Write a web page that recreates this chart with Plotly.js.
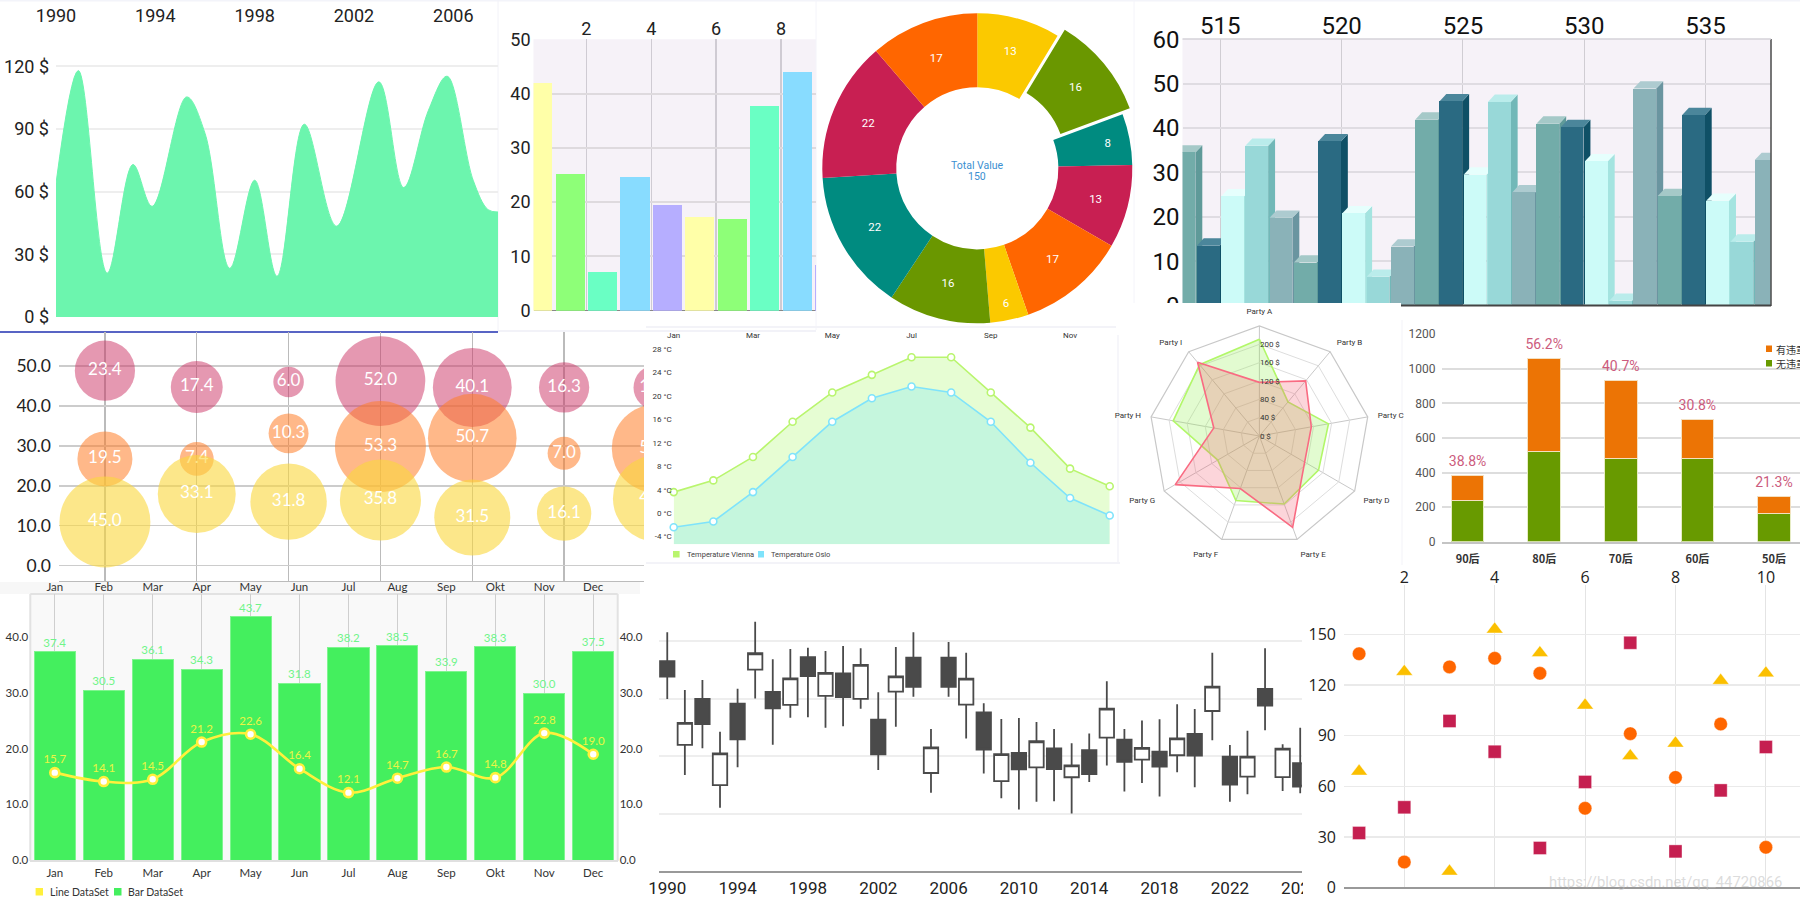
<!DOCTYPE html>
<html><head><meta charset="utf-8">
<script src="https://cdn.plot.ly/plotly-3.0.1.min.js"></script>
<style>html,body{margin:0;padding:0;background:#fff}#c{width:1800px;height:900px}</style>
</head><body><div id="c"></div>
<script>
// ---------- data ----------
const areaYears = [1990,1990.9,1992.06,1993.1,1993.87,1995.26,1996,1997,1998,1998.9,2000,2001.3,2003,2004,2005,2005.75,2006.8,2007.4,2007.8];
const areaValues = [64,118,21,73,53,105.4,88,23.3,65.5,19.5,92.3,43.5,112.6,62,99,115.3,65.5,51.4,50.3];
const areaTicks = [1990,1994,1998,2002,2006];
const areaYTicks = [0,30,60,90,120];
const areaYLabels = ['0 $','30 $','60 $','90 $','120 $'];

const pastelX = [0.5,1.5,2.5,3.5,4.5,5.5,6.5,7.5,8.5,9.5];
const pastelValues = [42,25.2,7.1,24.6,19.5,17.2,16.8,37.7,43.9,8.4];
const pastelColors = ['#ffffa8','#8eff78','#6affc4','#88dcff','#b6aeff'];

const donutValues = [13,16,8,13,17,6,16,22,22,17];
const donutColors = ['#fbc900','#6a9700','#008b80','#c81f52','#ff6600','#fbc900','#6a9700','#008b80','#c81f52','#ff6600'];
const donutPull = [0,0.06,0,0,0,0,0,0,0,0];

const bar3dX = [513.5,514.5,515.5,516.5,517.5,518.5,519.5,520.5,521.5,522.5,523.5,524.5,525.5,526.5,527.5,528.5,529.5,530.5,531.5,532.5,533.5,534.5,535.5,536.5,537.5];
const bar3dValues = [34.5,13.5,24.6,36,19.8,9.7,37,20.8,6.5,13.3,41.9,46,29.5,45.9,25.5,41,40.2,32.5,1.1,48.9,24.7,42.9,23.6,14.4,32.8];
const bar3dFront = ['#72aca9','#2a6a82','#ccfbf8','#98d8d8','#8ab2b8'];
const bar3dTop = ['#a5c9c8','#4b869b','#e6fffd','#baeceb','#adcbd0'];
const bar3dSide = ['#5f9a99','#0f5066','#a4e4e0','#72b8b8','#6a95a0'];

const bubbleX = [1,2,3,4,5,6,7];
const pinkY = [48.8,44.7,46,46.2,44.6,44.6,44.6];
const pinkV = [23.4,17.4,6.0,52.0,40.1,16.3,13.0];
const orangeY = [26.7,26.7,33.1,29.8,31.9,28.1,29.3];
const orangeV = [19.5,7.4,10.3,53.3,50.7,7.0,50.3];
const yellowY = [10.9,17.9,16,16.4,12,13,16.8];
const yellowV = [45.0,33.1,31.8,35.8,31.5,16.1,40.3];

const months = ['Jan','Feb','Mar','Apr','May','Jun','Jul','Aug','Sep','Oct','Nov','Dec'];
const viennaT = [3.6,5.6,9.6,15.6,20.6,23.6,26.6,26.6,20.6,14.6,7.6,4.6];
const osloT = [-2.4,-1.4,3.6,9.6,15.6,19.6,21.6,20.6,15.6,8.6,2.6,-0.4];
const tempBaseline = [-5.3,-5.3,-5.3,-5.3,-5.3,-5.3,-5.3,-5.3,-5.3,-5.3,-5.3,-5.3];
const tempTicks = [-4,0,4,8,12,16,20,24,28];
const tempLabels = ['-4 °C','0 °C','4 °C','8 °C','12 °C','16 °C','20 °C','24 °C','28 °C'];

const parties = ['Party A','Party B','Party C','Party D','Party E','Party F','Party G','Party H','Party I'];
const radarGreen = [211,97,153,149,158,150,105,191,203];
const radarRed = [117,157,115,114,212,122,212,101,210];
const radarTicks = [0,40,80,120,160,200];
const radarLabels = ['0 $','40 $','80 $','120 $','160 $','200 $'];

const ageGroups = ['90后','80后','70后','60后','50后'];
const noViolation = [241,523,479,481,166];
const hasViolation = [141,539,455,227,93];
const agePercent = ['38.8%','56.2%','40.7%','30.8%','21.3%'];

const monthsOkt = ['Jan','Feb','Mar','Apr','May','Jun','Jul','Aug','Sep','Okt','Nov','Dec'];
const comboBars = [37.4,30.5,36.1,34.3,43.7,31.8,38.2,38.5,33.9,38.3,30.0,37.5];
const comboLine = [15.7,14.1,14.5,21.2,22.6,16.4,12.1,14.7,16.7,14.8,22.8,19.0];

const candleX = [1990,1991,1992,1993,1994,1995,1996,1997,1998,1999,2000,2001,2002,2003,2004,2005,2006,2007,2008,2009,2010,2011,2012,2013,2014,2015,2016,2017,2018,2019,2020,2021,2022,2023,2024,2025,2026];
const candleOpen = [109.6,65.9,89.9,44.9,87.5,105.2,93.6,86.8,111.7,91.5,103.3,89.9,79.1,93.7,111.5,51.2,111.5,86.9,82.9,47,61.7,54.2,64.1,49,63.2,69.7,68.6,58.2,62.4,60.5,71.6,83.6,59.8,49.3,95.1,49.1,56.3];
const candleClose = [101.6,77.4,76.8,61.5,68.8,113.8,85,100.7,101.9,103.5,90.9,107.7,61,101.7,96.2,64.6,96.2,100.5,63.4,61.1,53.1,67.8,53.3,55.2,50.7,84.8,57.1,64.3,54.5,69.3,60.3,96.3,45.1,59.8,86.4,63.9,44.1];
const candleHigh = [124.7,94.6,99.8,72.8,95.3,130.3,110.6,116,116.6,115,117.6,116.4,93.4,117.1,124.7,74.2,119.7,114.1,87.6,79.4,80,77.9,74.2,66.7,71.8,99.1,74.2,78.7,79.3,87.1,84.7,114.1,65.9,73.3,116.4,66.2,74.9];
const candleLow = [89.9,50.2,64.1,33.1,54.2,90.2,66,80.1,80.3,74.9,75.6,84.8,52.8,75.4,91.1,40.9,91.1,69.2,50.9,38,32.2,36.2,36.4,30,46.5,55.1,41.5,46,38.9,51.6,43.7,68.3,36.2,40.1,73.5,41.8,40.6];
const candleTicks = [1990,1994,1998,2002,2006,2010,2014,2018,2022,2026];

const scatterX = [1,2,3,4,5,6,7,8,9,10];
const circleY = [138.5,15.2,130.7,135.8,126.9,47,91.2,65.3,96.9,23.9];
const triangleY = [68.9,127.9,9.7,153,139,108,78,85.5,122.6,127];
const squareY = [32.4,47.6,98.7,80.5,23.5,62.6,145,21.5,57.6,83.3];

// ---------- helpers ----------
const W = 1800, H = 900;
const dx = (a,b)=>[a/W,b/W];
const dy = (top,bot)=>[1-bot/H,1-top/H];
const narrow = 'Roboto, sans-serif';
const shapes = [], annotations = [], traces = [];
function rect(x0,y0,x1,y1,color,layer){shapes.push({type:'rect',xref:'paper',yref:'paper',x0:x0/W,x1:x1/W,y0:1-y0/H,y1:1-y1/H,fillcolor:color,line:{width:0},layer:layer||'below'});}
function line(x0,y0,x1,y1,color,width,layer){shapes.push({type:'line',xref:'paper',yref:'paper',x0:x0/W,x1:x1/W,y0:1-y0/H,y1:1-y1/H,line:{color:color,width:width},layer:layer||'below'});}
function label(x,y,text,size,color,family,anchor){annotations.push({xref:'paper',yref:'paper',x:x/W,y:1-y/H,text:text,showarrow:false,xanchor:anchor||'left',yanchor:'middle',font:{size:size,color:color,family:family},borderpad:0,captureevents:false});}
const hidden = {showgrid:false,zeroline:false,showticklabels:false,ticks:'',showline:false};

// ---------- panel backgrounds ----------
rect(0,0,1800,1.5,'#f3f4fa');
rect(533.5,39.2,816,310.7,'#f6f2f8');
rect(1182.5,39,1771,305.6,'#f6f2f8');
rect(0,582,646,900,'#ffffff');
rect(0,582,640,594,'#f7f7f7');
rect(30.3,594,617.7,861,'#f9f9f9');
line(30.3,594,617.7,594,'#e2e2e2',2);
line(30.3,594,30.3,861,'#e2e2e2',2);
line(617.7,594,617.7,861,'#e2e2e2',2);
line(498,0,498,332,'#f2f2f8',1);
line(816,0,816,330,'#f4f4fa',1);
line(1134,0,1134,303,'#f4f4fa',1);
line(646,327,1116,327,'#f3f3f8',2);
line(646,563,1120,563,'#f3f3f8',2);
line(1118,335,1118,563,'#f3f3f8',1.5);
line(1402,320,1402,565,'#f3f3f8',1);
line(0,332,498,332,'#2030b0',1.6);
line(498,331,816,331,'#f2f2f8',2);

// ---------- 1. area ----------
traces.push({type:'scatter',xaxis:'x',yaxis:'y',x:areaYears,y:areaValues,mode:'lines',
  line:{shape:'spline',smoothing:1,color:'#6cf5ae',width:1},fill:'tozeroy',fillcolor:'#6cf5ae',hoverinfo:'skip'});

// ---------- 2. pastel bars ----------
traces.push({type:'bar',xaxis:'x2',yaxis:'y2',x:pastelX,y:pastelValues,width:0.9,
  marker:{color:pastelX.map((_,i)=>pastelColors[i%5])},hoverinfo:'skip'});

// ---------- 3. donut ----------
traces.push({type:'pie',values:donutValues,sort:false,direction:'clockwise',rotation:0,hole:0.523,
  pull:donutPull,marker:{colors:donutColors,line:{width:0}},textinfo:'value',textposition:'inside',
  insidetextorientation:'horizontal',textfont:{color:'#fff',size:11.5,family:'Roboto'},
  domain:{x:dx(813,1141.6),y:dy(4,332.6)},hoverinfo:'skip'});
label(977.3,165.7,'Total Value',10.5,'#3b8fd1','Roboto','center');
label(977.3,176.7,'150',10.5,'#3b8fd1','Roboto','center');

// ---------- 4. pseudo 3D bars ----------
const depthX = 0.286, depthY = 1.65, faceW = 0.94;
bar3dX.forEach((c,i)=>{
  const v = bar3dValues[i], l = c-faceW/2, r = c+faceW/2;
  traces.push({type:'scatter',xaxis:'x3',yaxis:'y3',mode:'lines',line:{width:0},fill:'toself',fillcolor:bar3dSide[i%5],hoverinfo:'skip',
    x:[r,r+depthX,r+depthX,r,r],y:[0,depthY,v+depthY,v,0]});
  traces.push({type:'scatter',xaxis:'x3',yaxis:'y3',mode:'lines',line:{width:0},fill:'toself',fillcolor:bar3dTop[i%5],hoverinfo:'skip',
    x:[l,l+depthX,r+depthX,r,l],y:[v,v+depthY,v+depthY,v,v]});
});
traces.push({type:'bar',xaxis:'x4',yaxis:'y4',x:bar3dX,y:bar3dValues,width:faceW,
  marker:{color:bar3dX.map((_,i)=>bar3dFront[i%5])},hoverinfo:'skip'});
line(1771,39,1771,306,'#555',1.6,'above');
line(1182.5,39,1771,39,'#d5d2d8',1.5,'above');
line(1401,305.6,1771,305.6,'#444',2,'above');
rect(1135,303,1401,307,'#ffffff','above');
rect(1135,303,1182,322,'#ffffff','above');

// ---------- 5. bubbles ----------
function bubble(ys,vals,color,k){
  traces.push({type:'scatter',xaxis:'x5',yaxis:'y5',x:bubbleX,y:ys,mode:'markers+text',text:vals.map(v=>v.toFixed(1)),
    textposition:'middle center',textfont:{color:'#fff',size:17,family:'Lato'},cliponaxis:true,
    marker:{size:vals.map(v=>k*Math.sqrt(v)),color:color,opacity:1,line:{width:0},sizemode:'diameter'},hoverinfo:'skip'});
}
bubble(pinkY,pinkV,'rgba(203,50,100,0.5)',12.45);
bubble(orangeY,orangeV,'rgba(255,125,40,0.55)',12.45);
bubble(yellowY,yellowV,'rgba(250,215,60,0.6)',13.55);

// ---------- 6. temperature ----------
const tGreen='#b9f56e', tBlue='#7fe3fb';
traces.push({type:'scatter',xaxis:'x6',yaxis:'y6',x:months,y:tempBaseline,mode:'lines',line:{width:0},hoverinfo:'skip'});
traces.push({type:'scatter',xaxis:'x6',yaxis:'y6',x:months,y:viennaT,mode:'lines',line:{width:0},fill:'tonexty',fillcolor:'#e6fdd3',hoverinfo:'skip'});
traces.push({type:'scatter',xaxis:'x6',yaxis:'y6',x:months,y:tempBaseline,mode:'lines',line:{width:0},hoverinfo:'skip'});
traces.push({type:'scatter',xaxis:'x6',yaxis:'y6',x:months,y:osloT,mode:'lines',line:{width:0},fill:'tonexty',fillcolor:'#c5f6dd',hoverinfo:'skip'});
traces.push({type:'scatter',xaxis:'x6',yaxis:'y6',x:months,y:viennaT,mode:'lines+markers',cliponaxis:false,line:{color:tGreen,width:1.6},
  marker:{size:7,color:'#fff',line:{color:tGreen,width:1.6}},hoverinfo:'skip'});
traces.push({type:'scatter',xaxis:'x6',yaxis:'y6',x:months,y:osloT,mode:'lines+markers',cliponaxis:false,line:{color:tBlue,width:1.6},
  marker:{size:7,color:'#fff',line:{color:tBlue,width:1.6}},hoverinfo:'skip'});
rect(673,551,679.6,557.5,tGreen);
rect(758,551,764,557.5,tBlue);
label(686,554.3,'Temperature Vienna',7.5,'#444','Roboto');
label(770,554.3,'Temperature Oslo',7.5,'#444','Roboto');

// ---------- 7. radar ----------
traces.push({type:'scatterpolar',subplot:'polar',theta:parties.concat(parties[0]),r:radarGreen.concat(radarGreen[0]),mode:'lines',
  line:{color:'#b2f769',width:1.6},fill:'toself',fillcolor:'rgba(139,239,67,0.25)',hoverinfo:'skip'});
traces.push({type:'scatterpolar',subplot:'polar',theta:parties.concat(parties[0]),r:radarRed.concat(radarRed[0]),mode:'lines',
  line:{color:'#f96b82',width:1.6},fill:'toself',fillcolor:'rgba(243,87,107,0.25)',hoverinfo:'skip'});

// ---------- 8. stacked ----------
traces.push({type:'bar',xaxis:'x7',yaxis:'y7',x:ageGroups,y:noViolation,width:0.424,marker:{color:'#689a00',line:{color:'#e6ecc4',width:1}},hoverinfo:'skip'});
traces.push({type:'bar',xaxis:'x7',yaxis:'y7',x:ageGroups,y:hasViolation,width:0.424,marker:{color:'#ec7405',line:{color:'#f4e0c0',width:1}},hoverinfo:'skip'});
traces.push({type:'scatter',xaxis:'x7',yaxis:'y7',x:ageGroups,y:noViolation.map((v,i)=>v+hasViolation[i]),mode:'markers+text',text:agePercent,
  marker:{size:8,color:'rgba(0,0,0,0)',line:{width:0}},
  textposition:'top center',textfont:{color:'#cc5b7d',size:14,family:narrow},cliponaxis:false,hoverinfo:'skip'});
rect(1766,345.5,1772,352,'#ec7405');
rect(1766,360,1772,366.5,'#689a00');
label(1775,349,'有违章',10,'#333','Noto Sans CJK SC');
label(1775,363.5,'无违章',10,'#333','Noto Sans CJK SC');

// ---------- 9. combo ----------
traces.push({type:'bar',xaxis:'x8',yaxis:'y8',x:monthsOkt,y:comboBars,width:0.84,
  marker:{color:'#44ef5e',line:{color:'#7ff58f',width:1}},text:comboBars.map(v=>v.toFixed(1)),textposition:'outside',
  textfont:{color:'#6ff589',size:11.5,family:'Lato'},cliponaxis:false,hoverinfo:'skip'});
traces.push({type:'scatter',xaxis:'x9',yaxis:'y9',x:monthsOkt,y:comboLine,mode:'lines+markers+text',
  line:{shape:'spline',smoothing:1,color:'#fff03c',width:2.6},
  marker:{size:9,color:'#fff',line:{color:'#fff03c',width:2.6}},
  text:comboLine.map(v=>v.toFixed(1)),textposition:'top center',textfont:{color:'#eaf545',size:11.5,family:'Lato'},hoverinfo:'skip'});
rect(35.6,888,43,895.5,'#fff03c');
rect(114,888,121.5,895.5,'#44ef5e');
label(48.5,891.7,'Line DataSet',10.5,'#333','Lato');
label(126.5,891.7,'Bar DataSet',10.5,'#333','Lato');

// ---------- 10. candles ----------
traces.push({type:'candlestick',xaxis:'x10',yaxis:'y10',x:candleX,open:candleOpen,close:candleClose,high:candleHigh,low:candleLow,
  increasing:{line:{color:'#4a4a4a',width:1.8},fillcolor:'#ffffff'},
  decreasing:{line:{color:'#4a4a4a',width:1.8},fillcolor:'#4a4a4a'},whiskerwidth:0,hoverinfo:'skip'});
rect(1303,874,1322,898,'#ffffff','above');

// ---------- 11. scatter ----------
function pts(ys,sym,color,size){
  traces.push({type:'scatter',xaxis:'x11',yaxis:'y11',x:scatterX,y:ys,mode:'markers',cliponaxis:false,
    marker:{symbol:sym,size:size,color:color,line:{width:0.6,color:'rgba(255,255,255,0.6)'}},hoverinfo:'skip'});
}
pts(circleY,'circle','#ff6600',13.5);
pts(triangleY,'triangle-up','#fbbf00',14.5);
pts(squareY,'square','#c51f50',13);
label(1548,881.7,'https://blog.csdn.net/qq_44720866',14.8,'rgba(190,190,190,0.55)','Roboto');

// ---------- layout ----------
const layout = {
  width:W,height:H,margin:{l:0,r:0,t:0,b:0,pad:0},paper_bgcolor:'#ffffff',plot_bgcolor:'rgba(0,0,0,0)',
  showlegend:false,barmode:'stack',bargap:0,boxgap:0.18,boxgroupgap:0,shapes:shapes,annotations:annotations,hovermode:false,
  font:{family:'Roboto',color:'#222'},
  // 1
  xaxis:{domain:dx(56,498),anchor:'y',side:'top',range:[1990,2007.8],tickmode:'array',tickvals:areaTicks,showgrid:false,zeroline:false,
    tickfont:{family:narrow,size:18,color:'#222'},ticklabelstandoff:1},
  yaxis:{domain:dy(28,317),anchor:'x',range:[0,138.4],tickmode:'array',tickvals:areaYTicks,ticktext:areaYLabels,gridcolor:'#eeeeee',gridwidth:2,zeroline:false,
    tickfont:{family:narrow,size:18,color:'#222'},ticklabelstandoff:6},
  // 2
  xaxis2:{domain:dx(533.5,816),anchor:'y2',side:'top',range:[0.37,9.08],tickvals:[2,4,6,8],gridcolor:'#cfcbd3',gridwidth:1.2,zeroline:false,
    tickfont:{family:narrow,size:18,color:'#222'}},
  yaxis2:{domain:dy(39.2,310.7),anchor:'x2',range:[0,50],tickvals:[0,10,20,30,40,50],gridcolor:'#dedade',gridwidth:2,zeroline:true,zerolinecolor:'#888',zerolinewidth:1.5,
    tickfont:{family:narrow,size:18,color:'#222'},ticklabelstandoff:2},
  // 4
  xaxis3:{domain:dx(1182.5,1771),anchor:'y3',side:'top',range:[513.44,537.7],tickvals:[515,520,525,530,535],gridcolor:'#d0cdd3',gridwidth:1,zeroline:false,
    tickfont:{family:narrow,size:24,color:'#111'}},
  yaxis3:{domain:dy(39.3,305.6),anchor:'x3',range:[0,60],tickvals:[0,10,20,30,40,50,60],gridcolor:'#dfdce2',gridwidth:2,zeroline:false,
    tickfont:{family:narrow,size:24,color:'#111'},ticklabelstandoff:2},
  xaxis4:Object.assign({overlaying:'x3',anchor:'y4',range:[513.44,537.7]},hidden),
  yaxis4:Object.assign({overlaying:'y3',anchor:'x4',range:[0,60]},hidden),
  // 5
  xaxis5:{domain:dx(59,644),anchor:'y5',range:[0.5,6.87],tickvals:bubbleX,showticklabels:false,gridcolor:'#bbbbbb',gridwidth:1.4,zeroline:false,showline:true,linecolor:'#bbbbbb',linewidth:1.4},
  yaxis5:{domain:dy(332,581),anchor:'x5',range:[-3.9,58.5],tickvals:[0,10,20,30,40,50],tickformat:'.1f',gridcolor:'#cccccc',gridwidth:1.8,zeroline:false,
    tickfont:{family:'Lato',size:17.5,color:'#222'},ticklabelstandoff:7},
  // 6
  xaxis6:{domain:dx(673.7,1109.7),anchor:'y6',side:'top',type:'category',categoryorder:'array',categoryarray:months,range:[0,11],
    tickmode:'array',tickvals:['Jan','Mar','May','Jul','Sep','Nov'],showgrid:false,zeroline:false,tickfont:{size:8,color:'#333'},ticklabelstandoff:1},
  yaxis6:{domain:dy(342,544.3),anchor:'x6',range:[-5.3,29.2],tickmode:'array',tickvals:tempTicks,ticktext:tempLabels,showgrid:false,zeroline:false,
    tickfont:{size:8,color:'#333'},ticklabelstandoff:1},
  // 7 radar
  polar:{domain:{x:dx(1149.4,1369.4),y:dy(326,546)},bgcolor:'rgba(0,0,0,0)',gridshape:'linear',
    angularaxis:{direction:'clockwise',rotation:90,type:'category',categoryorder:'array',categoryarray:parties,gridcolor:'#c8c8c8',linecolor:'#c8c8c8',linewidth:1.2,gridwidth:1,
      tickfont:{size:8,color:'#333'},ticks:'outside',ticklen:8,tickcolor:'rgba(0,0,0,0)'},
    radialaxis:{range:[0,240],angle:90,tickangle:90,tickmode:'array',tickvals:radarTicks,ticktext:radarLabels,gridcolor:'#dddddd',gridwidth:1,showline:false,ticks:'',side:'clockwise',
      tickfont:{size:8,color:'#333'}}},
  // 8
  xaxis7:{domain:dx(1441.5,1800),anchor:'y7',type:'category',categoryorder:'array',categoryarray:ageGroups,range:[-0.341,4.34],showgrid:false,zeroline:false,showline:true,linecolor:'#c4c4c4',linewidth:2,
    tickfont:{family:'Noto Sans CJK SC',size:11,color:'#333',weight:700},ticklabelstandoff:6},
  yaxis7:{domain:dy(333.4,541.7),anchor:'x7',range:[0,1205],tickvals:[0,200,400,600,800,1000,1200],gridcolor:'#dddddd',gridwidth:2,zeroline:false,
    tickfont:{family:narrow,size:12,color:'#555'},ticklabelstandoff:5},
  // 9
  xaxis8:{domain:dx(30.3,617.7),anchor:'y8',type:'category',categoryorder:'array',categoryarray:monthsOkt,range:[-0.5,11.5],gridcolor:'#cfcfcf',gridwidth:1.2,zeroline:false,showline:true,linecolor:'#e0e0e0',linewidth:1.5,
    tickfont:{family:'Lato',size:11.5,color:'#333'},ticklabelstandoff:2},
  yaxis8:{domain:dy(594,860),anchor:'x8',range:[0,47.8],tickvals:[0,10,20,30,40],tickformat:'.1f',showgrid:false,zeroline:false,
    tickfont:{family:'Lato',size:11.5,color:'#333'},ticklabelstandoff:1},
  xaxis9:{overlaying:'x8',side:'top',anchor:'y9',type:'category',categoryorder:'array',categoryarray:monthsOkt,range:[-0.5,11.5],showgrid:false,zeroline:false,
    tickfont:{family:'Lato',size:11.5,color:'#333'}},
  yaxis9:{overlaying:'y8',side:'right',anchor:'x9',range:[0,47.8],tickvals:[0,10,20,30,40],tickformat:'.1f',showgrid:false,zeroline:false,
    tickfont:{family:'Lato',size:11.5,color:'#333'},ticklabelstandoff:1},
  // 10
  xaxis10:{domain:dx(659,1301.8),anchor:'y10',range:[1989.53,2026.09],tickmode:'array',tickvals:candleTicks,showgrid:false,zeroline:false,showline:true,linecolor:'#999999',linewidth:2,
    rangeslider:{visible:false},tickfont:{size:17,color:'#222'},ticklabelstandoff:1},
  yaxis10:{domain:dy(583,871),anchor:'x10',range:[0,150.5],tickvals:[30,60,90,120,150],showticklabels:false,gridcolor:'#eeeeee',gridwidth:2,zeroline:false},
  // 11
  xaxis11:{domain:dx(1344,1800),anchor:'y11',side:'top',range:[0.666,10.755],tickvals:[2,4,6,8,10],gridcolor:'#e4e4e4',gridwidth:1,zeroline:false,
    tickfont:{family:'Open Sans',size:16,color:'#222'},ticklabelstandoff:-2},
  yaxis11:{domain:dy(585,887.7),anchor:'x11',range:[0,179.2],tickvals:[0,30,60,90,120,150],gridcolor:'#eaeaea',gridwidth:1.2,zeroline:true,zerolinecolor:'#999',zerolinewidth:2,
    tickfont:{family:'Open Sans',size:16,color:'#222'},ticklabelstandoff:7}
};
Plotly.newPlot('c',traces,layout,{staticPlot:true,displayModeBar:false});
</script></body></html>
